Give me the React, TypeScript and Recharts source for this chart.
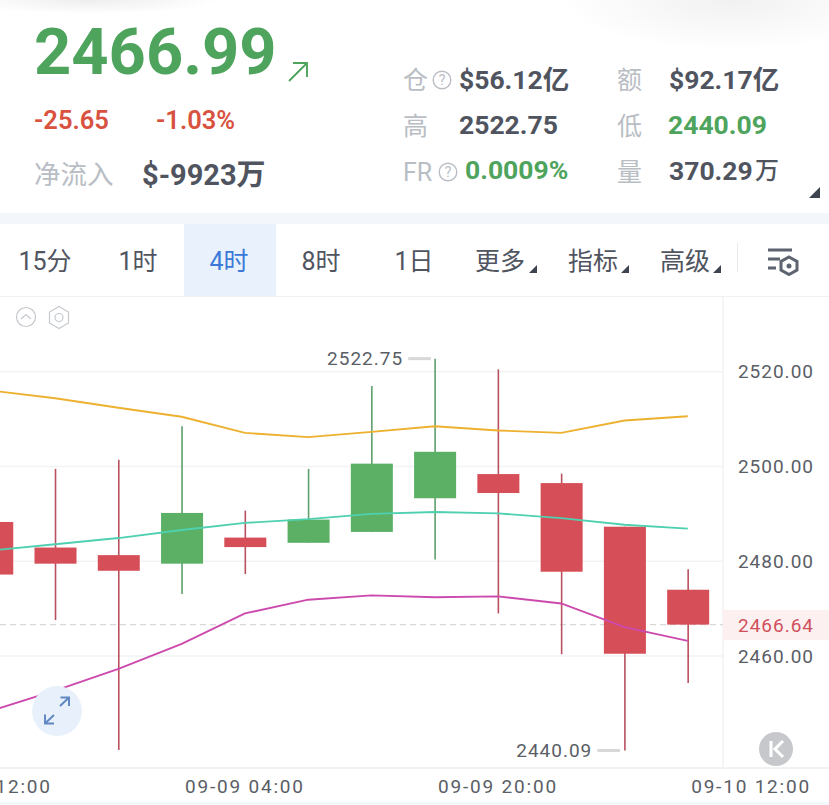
import { Bar, ComposedChart, Line, ReferenceArea, ReferenceLine, XAxis, YAxis } from "recharts";

const FONT = 'Roboto, "Noto Sans CJK SC", sans-serif';
const GREEN = "#4ea45c";
const RED_TEXT = "#d8523f";
const DARK = "#50545f";
const GRAY = "#b9bdc4";

const opens = [2488.3, 2482.9, 2481.3, 2479.5, 2485, 2483.9, 2486.2, 2493.3, 2498.4, 2496.5, 2487.3, 2474];
const closes = [2477.2, 2479.5, 2478, 2490.2, 2483, 2488.8, 2500.6, 2503.1, 2494.4, 2477.8, 2460.5, 2466.64];
const highs = [2492, 2499.5, 2501.4, 2508.5, 2490.7, 2499.5, 2517, 2522.75, 2520.5, 2498.5, 2487.3, 2478.3];
const lows = [2474, 2467.6, 2440.2, 2473.1, 2477.3, 2483.9, 2486.2, 2480.4, 2469, 2460.4, 2440.09, 2454.3];
const upperBand = [2516, 2514.4, 2512.4, 2510.5, 2507.1, 2506.2, 2507.3, 2508.5, 2507.6, 2507.1, 2509.7, 2510.6];
const middleBand = [2482.3, 2483.6, 2484.9, 2486.6, 2488.1, 2488.9, 2490, 2490.4, 2490.1, 2489.1, 2487.7, 2486.9];
const lowerBand = [2448.5, 2452.7, 2457.3, 2462.6, 2469, 2471.9, 2472.8, 2472.4, 2472.6, 2471.1, 2466.1, 2463.2];

const priceTicks = [2460, 2480, 2500, 2520];
const timeTicks = [0, 4, 8, 12];
const timeLabels = ["09-08 12:00", "09-09 04:00", "09-09 20:00", "09-10 12:00"];
const lastPrice = 2466.64;
const highPrice = 2522.75;
const lowPrice = 2440.09;

const tabs = ["15分", "1时", "4时", "8时", "1日", "更多", "指标", "高级"];
const tabCenters = [45, 138, 229, 321, 414, 500, 593, 685];

const data = opens.map((open, i) => ({
  i,
  open,
  close: closes[i],
  range: [lows[i], highs[i]],
  upper: upperBand[i],
  middle: middleBand[i],
  lower: lowerBand[i],
}));

// index at which the price panel ends
const PANEL_END = 11.557;

const Candle = (props: any) => {
  const { x, y, width, height, payload } = props;
  const [low, high] = payload.range;
  const perUnit = height / (high - low);
  const up = payload.close >= payload.open;
  const top = y + (high - Math.max(payload.open, payload.close)) * perUnit;
  const bottom = y + (high - Math.min(payload.open, payload.close)) * perUnit;
  const mid = x + width / 2;
  return (
    <g>
      <line x1={mid} x2={mid} y1={y} y2={y + height} stroke={up ? "#5f9f6c" : "#b9505f"} strokeWidth={1.6} />
      <rect x={x} y={top} width={width} height={bottom - top} fill={up ? "#5bb065" : "#d64f58"} />
    </g>
  );
};

const T = ({ x, y, size, color, weight = 400, anchor = "left", children, spacing = 0 }: any) => (
  <div
    style={{
      position: "absolute",
      left: x,
      top: y,
      transform: `translate(${anchor === "center" ? "-50%" : "0"}, -50%)`,
      fontFamily: FONT,
      fontSize: size,
      color,
      fontWeight: weight,
      letterSpacing: spacing,
      lineHeight: 1,
      whiteSpace: "nowrap",
    }}
  >
    {children}
  </div>
);

const Help = ({ x, y }: any) => (
  <svg style={{ position: "absolute", left: x, top: y }} width={20} height={20}>
    <circle cx={10} cy={10} r={8.8} fill="none" stroke={GRAY} strokeWidth={1.4} />
    <text x={10} y={15} textAnchor="middle" fontSize={14} fill={GRAY} fontFamily={FONT}>?</text>
  </svg>
);

const Corner = ({ x, y, size = 9 }: any) => (
  <svg style={{ position: "absolute", left: x, top: y }} width={size} height={size}>
    <path d={`M${size} 0V${size}H0Z`} fill="#3d4450" />
  </svg>
);

export default function App() {
  return (
    <div
      style={{
        position: "absolute",
        left: 0,
        top: 0,
        width: 829,
        height: 805,
        overflow: "hidden",
        background:
          "radial-gradient(ellipse 130px 14px at 90px 0, #eeeeee, transparent), radial-gradient(ellipse 170px 50px at 730px 0, #f1f1f1, transparent), #fff",
      }}
    >
      <T x={34} y={52} size={65} color={GREEN} weight={700}>2466.99</T>
      <svg style={{ position: "absolute", left: 286, top: 60 }} width={24} height={24}>
        <path d="M3 21L21 3M7 3H21V17" fill="none" stroke={GREEN} strokeWidth={1.9} />
      </svg>
      <T x={34} y={121} size={25.5} color={RED_TEXT} weight={600}>-25.65</T>
      <T x={156} y={121} size={25.5} color={RED_TEXT} weight={600}>-1.03%</T>
      <T x={34} y={175} size={26.5} color={GRAY}>净流入</T>
      <T x={142} y={175} size={29} color={DARK} weight={700}>$-9923万</T>

      <T x={403} y={80} size={25} color={GRAY}>仓</T>
      <Help x={432} y={70} />
      <T x={459} y={80} size={26.5} color={DARK} weight={700}>$56.12亿</T>
      <T x={617} y={80} size={25} color={GRAY}>额</T>
      <T x={669} y={80} size={26.5} color={DARK} weight={700}>$92.17亿</T>
      <T x={403} y={126} size={25} color={GRAY}>高</T>
      <T x={459} y={125} size={26.5} color={DARK} weight={700}>2522.75</T>
      <T x={617} y={126} size={25} color={GRAY}>低</T>
      <T x={668} y={125} size={26.5} color={GREEN} weight={700}>2440.09</T>
      <T x={403} y={172} size={25} color={GRAY}>FR</T>
      <Help x={438} y={162} />
      <T x={465} y={170} size={26.5} color={GREEN} weight={700}>0.0009%</T>
      <T x={617} y={172} size={25} color={GRAY}>量</T>
      <T x={669} y={171} size={26.5} color={DARK} weight={700}>370.29</T>
      <T x={755} y={171} size={24} color={DARK} weight={500}>万</T>
      <Corner x={809} y={187} size={11} />

      <div style={{ position: "absolute", left: 0, top: 213, width: 829, height: 11, background: "#f3f6fa" }} />
      <div style={{ position: "absolute", left: 184, top: 224, width: 92, height: 72, background: "#e8f1fc" }} />
      {tabs.map((tab, i) => (
        <T key={tab} x={tabCenters[i]} y={261} size={25} anchor="center" color={tab === "4时" ? "#3b78d8" : DARK}>
          {tab}
        </T>
      ))}
      <Corner x={529} y={265} size={8} />
      <Corner x={621} y={265} size={8} />
      <Corner x={713} y={265} size={8} />
      <div style={{ position: "absolute", left: 737, top: 243, width: 1, height: 29, background: "#e8eaee" }} />
      <svg style={{ position: "absolute", left: 766, top: 246 }} width={34} height={30}>
        <path d="M2 4H26M2 13H14M2 22H10" stroke="#5d6470" strokeWidth={3} fill="none" />
        <path d="M23 11L31 15.5V24L23 28.5L15 24V15.5Z" fill="none" stroke="#5d6470" strokeWidth={3} />
        <circle cx={23} cy={20} r={2.5} fill="#5d6470" />
      </svg>
      <div style={{ position: "absolute", left: 0, top: 296, width: 829, height: 1, background: "#f0f1f3" }} />
      <div style={{ position: "absolute", left: 0, top: 802, width: 829, height: 3, background: "#f3f6fa" }} />

      <div style={{ position: "absolute", left: 0, top: 297 }}>
        <ComposedChart width={829} height={508} data={data} margin={{ top: 0, right: 0, bottom: 0, left: -40 }}>
          <XAxis
            dataKey="i"
            type="number"
            domain={[-0.504, 13.232]}
            allowDataOverflow
            ticks={timeTicks}
            interval={0}
            height={37}
            tickSize={0}
            tickMargin={12}
            tickFormatter={(v: number) => timeLabels[timeTicks.indexOf(v)]}
            axisLine={{ stroke: "#f1f2f4", strokeWidth: 2 }}
            tick={{ fill: "#5a5e66", fontSize: 19, fontFamily: FONT, letterSpacing: 1.8 }}
          />
          <YAxis
            orientation="right"
            mirror
            width={60}
            type="number"
            domain={[2436.39, 2535.76]}
            allowDataOverflow
            ticks={priceTicks}
            interval={0}
            tickSize={0}
            tickMargin={15}
            axisLine={false}
            tickFormatter={(v: number) => v.toFixed(2)}
            tick={{ fill: "#5a5e66", fontSize: 19, fontFamily: FONT, letterSpacing: 1 }}
          />
          {priceTicks.map((tick) => (
            <ReferenceLine
              key={tick}
              zIndex={100}
              segment={[{ x: -0.504, y: tick }, { x: PANEL_END, y: tick }]}
              stroke="#f2f3f5"
              strokeWidth={1.5}
            />
          ))}
          <ReferenceLine x={PANEL_END} zIndex={100} stroke="#f1f2f4" strokeWidth={1.5} />
          <ReferenceLine
            zIndex={100}
            segment={[{ x: -0.504, y: lastPrice }, { x: PANEL_END, y: lastPrice }]}
            stroke="#d8d8d8"
            strokeDasharray="6 4"
            strokeWidth={1.2}
          />
          <ReferenceArea
            x1={PANEL_END}
            x2={13.232}
            y1={2463.4}
            y2={2469.7}
            fill="#fcf0f0"
            fillOpacity={1}
            stroke="none"
            label={{ value: lastPrice.toFixed(2), fill: "#d0505c", fontSize: 19, fontFamily: FONT, letterSpacing: 1, position: "center" }}
          />
          <Bar dataKey="range" barSize={42} shape={Candle} isAnimationActive={false} />
          <Line dataKey="upper" stroke="#edb02f" strokeWidth={1.9} dot={false} isAnimationActive={false} />
          <Line dataKey="middle" stroke="#4fd0b0" strokeWidth={1.9} dot={false} isAnimationActive={false} />
          <Line dataKey="lower" stroke="#cc4aae" strokeWidth={1.9} dot={false} isAnimationActive={false} />
          <ReferenceLine
            segment={[{ x: 6.58, y: highPrice }, { x: 6.94, y: highPrice }]}
            stroke="#d8d8d8"
            strokeWidth={3}
            label={{ value: highPrice.toFixed(2), fill: "#5a5e66", fontSize: 19, fontFamily: FONT, letterSpacing: 1, position: "left", offset: 5 }}
          />
          <ReferenceLine
            segment={[{ x: 9.57, y: lowPrice }, { x: 9.93, y: lowPrice }]}
            stroke="#d8d8d8"
            strokeWidth={3}
            label={{ value: lowPrice.toFixed(2), fill: "#5a5e66", fontSize: 19, fontFamily: FONT, letterSpacing: 1, position: "left", offset: 5 }}
          />
        </ComposedChart>
      </div>

      <svg style={{ position: "absolute", left: 0, top: 297, pointerEvents: "none" }} width={829} height={508}>
        <circle cx={26} cy={20} r={9.5} fill="none" stroke="#c4c8cd" strokeWidth={1.2} />
        <path d="M21 22L26 17.5L31 22" fill="none" stroke="#c4c8cd" strokeWidth={1.2} />
        <path d="M59 9.5L68.5 15V26L59 31.5L49.5 26V15Z" fill="none" stroke="#c4c8cd" strokeWidth={1.2} />
        <circle cx={59} cy={20.5} r={4} fill="none" stroke="#c4c8cd" strokeWidth={1.2} />
        <circle cx={57} cy={414} r={25} fill="#e8f1fb" />
        <path d="M60 409L68.5 401M60.5 400.5H69V409M54 418L45.5 426M45 417.5V426.5H54" fill="none" stroke="#6288c2" strokeWidth={2} />
        <circle cx={776} cy={452} r={17} fill="#c6c8cc" />
        <path d="M771 444V460M783 444L775 452L783 460" fill="none" stroke="#fff" strokeWidth={3} />
      </svg>
    </div>
  );
}
